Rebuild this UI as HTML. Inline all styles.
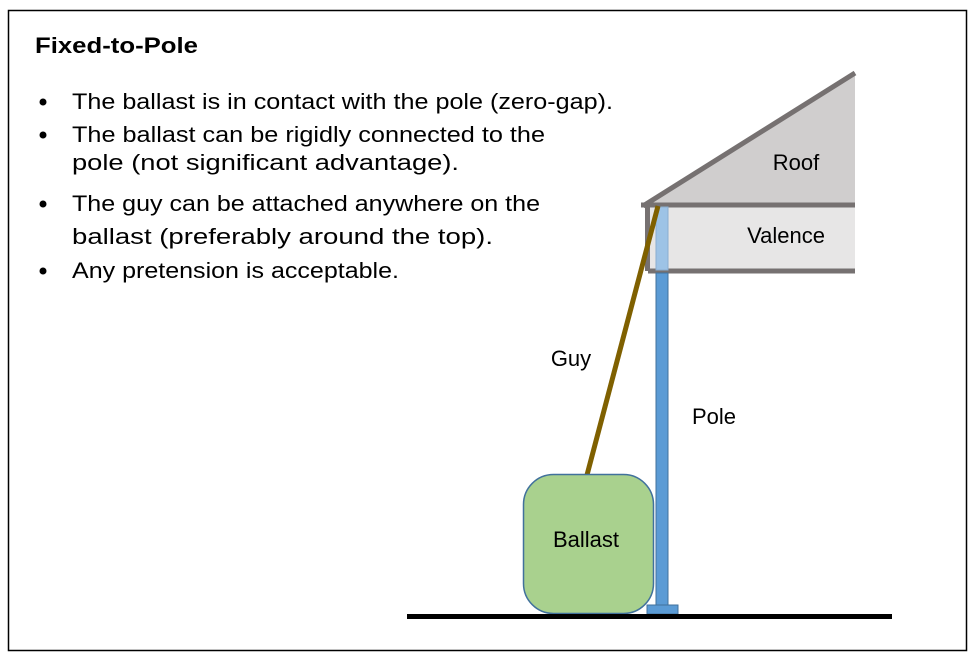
<!DOCTYPE html>
<html><head><style>
body{margin:0;background:#fff;width:975px;height:659px;overflow:hidden;font-family:"Liberation Sans",sans-serif;}
svg{position:absolute;left:0;top:0}
</style></head><body>
<svg width="975" height="659" viewBox="0 0 975 659" font-family="Liberation Sans, sans-serif">
<rect x="8.5" y="10.5" width="958" height="640" fill="#fff" stroke="#000" stroke-width="1.5"/>
<text x="35" y="53" font-size="22" font-weight="bold" textLength="163" lengthAdjust="spacingAndGlyphs">Fixed-to-Pole</text>
<g font-size="22" fill="#000">
<circle cx="43" cy="102" r="3.5"/><text x="72" y="109" textLength="541" lengthAdjust="spacingAndGlyphs">The ballast is in contact with the pole (zero-gap).</text>
<circle cx="43" cy="135" r="3.5"/><text x="72" y="142" textLength="473" lengthAdjust="spacingAndGlyphs">The ballast can be rigidly connected to the</text>
<text x="72" y="170" textLength="387" lengthAdjust="spacingAndGlyphs">pole (not significant advantage).</text>
<circle cx="43" cy="204" r="3.5"/><text x="72" y="211" textLength="468" lengthAdjust="spacingAndGlyphs">The guy can be attached anywhere on the</text>
<text x="72" y="244" textLength="421" lengthAdjust="spacingAndGlyphs">ballast (preferably around the top).</text>
<circle cx="43" cy="271" r="3.5"/><text x="72" y="278" textLength="327" lengthAdjust="spacingAndGlyphs">Any pretension is acceptable.</text>
</g>
<polygon points="643,205 855,72 855,205" fill="#d0cece"/>
<line x1="643" y1="206" x2="855" y2="73" stroke="#767171" stroke-width="5"/>
<rect x="647" y="205" width="208" height="66" fill="#e7e6e6"/>
<line x1="641" y1="205" x2="855" y2="205" stroke="#767171" stroke-width="5"/>
<line x1="648" y1="271" x2="855" y2="271" stroke="#767171" stroke-width="5"/>
<line x1="647.5" y1="205" x2="647.5" y2="271" stroke="#767171" stroke-width="5"/>
<text x="796" y="170" font-size="22" text-anchor="middle">Roof</text>
<text x="786" y="243" font-size="22" text-anchor="middle">Valence</text>
<rect x="656" y="207" width="12" height="63" fill="#9dc3e6" stroke="#8aaed0" stroke-width="1"/>
<rect x="656" y="273" width="12" height="333" fill="#5b9bd5" stroke="#41719c" stroke-width="1"/>
<rect x="647" y="605" width="31" height="9" fill="#5b9bd5" stroke="#41719c" stroke-width="1"/>
<line x1="658" y1="206" x2="587" y2="475" stroke="#7f6000" stroke-width="5"/>
<rect x="523.5" y="474.5" width="130" height="139" rx="30" fill="#a9d18e" stroke="#41719c" stroke-width="1.5"/>
<text x="586" y="547" font-size="22" text-anchor="middle">Ballast</text>
<line x1="407" y1="616.5" x2="892" y2="616.5" stroke="#000" stroke-width="5"/>
<text x="571" y="366" font-size="22" text-anchor="middle">Guy</text>
<text x="714" y="424" font-size="22" text-anchor="middle">Pole</text>
</svg>
</body></html>
